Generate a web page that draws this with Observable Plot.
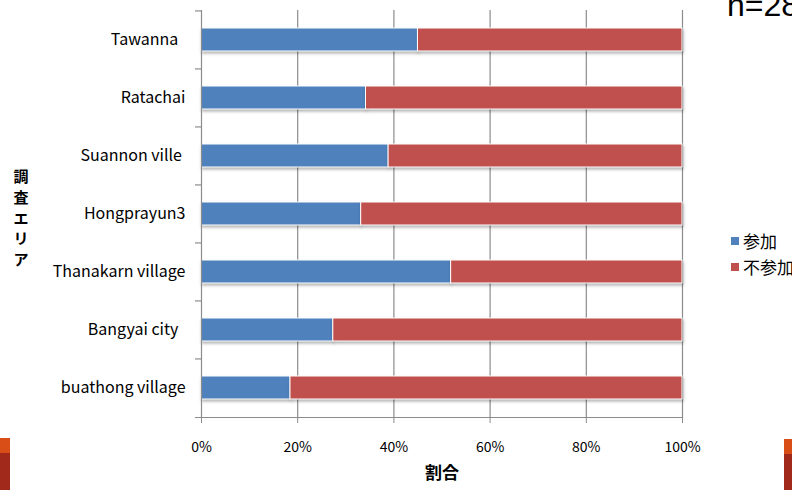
<!DOCTYPE html>
<html><head><meta charset="utf-8">
<script src="https://cdn.jsdelivr.net/npm/d3@7"></script>
<script src="https://cdn.jsdelivr.net/npm/@observablehq/plot@0.6"></script>
<style>
html,body{margin:0;padding:0;background:#fff;overflow:hidden;width:792px;height:490px;}
#wrap{position:relative;width:792px;height:490px;overflow:hidden;font-family:"Noto Sans CJK JP","Noto Sans",sans-serif;}
.deco{position:absolute;}
.leg{position:absolute;font-size:17px;color:#000;white-space:nowrap;line-height:1;}
.leg span.sw{display:inline-block;width:8px;height:8px;margin-right:4px;vertical-align:3px;}
#nlabel{position:absolute;left:727px;top:-13px;font-family:"Liberation Sans",Arial,sans-serif;font-size:32px;white-space:nowrap;}
svg text{white-space:pre;}
</style></head>
<body><div id="wrap"></div>
<script>
const areas = ["Tawanna  ","Ratachai","Suannon ville ","Hongprayun3","Thanakarn village","Bangyai city  ","buathong village"];
const joined = [0.450, 0.342, 0.389, 0.332, 0.519, 0.274, 0.185];
const seriesNames = ["参加","不参加"];
const seriesColors = ["#4F81BD","#C0504D"];
const xTicks = [0,0.2,0.4,0.6,0.8,1];
const yTitle = "調査エリア";
const xTitle = "割合";
const nLabel = "n=28";

const rows = [];
areas.forEach((a,i)=>{
  rows.push({area:a, series:seriesNames[0], value:joined[i]});
  rows.push({area:a, series:seriesNames[1], value:1-joined[i]});
});

const H = 490, mTop = 10, mBottom = 73;
const step = (H - mTop - mBottom) / areas.length;
const font = "'Noto Sans CJK JP','Noto Sans',sans-serif";
const pct = d => Math.round(d*100) + "%";

const chart = Plot.plot({
  width: 792, height: H,
  marginLeft: 201, marginRight: 110, marginTop: mTop, marginBottom: mBottom,
  style: {fontFamily: font, fontSize: "13px", color: "#000", background: "transparent"},
  x: {domain:[0,1], ticks: xTicks, tickFormat: pct},
  y: {domain: areas, paddingInner: 0.6, paddingOuter: 0.3},
  color: {domain: seriesNames, range: seriesColors},
  marks: [
    Plot.ruleX(xTicks.slice(1), {stroke:"#8c8c8c", strokeWidth:1.2}),
    Plot.barX(rows, Plot.stackX({x:"value", y:"area", fill:"series", order: seriesNames, stroke:"#ffffff", strokeWidth:1})),
    Plot.ruleX([0], {stroke:"#8c8c8c", strokeWidth:1.2}),
    Plot.frame({anchor:"bottom", stroke:"#8c8c8c", strokeWidth:1.2, insetLeft:-6}),
    Plot.ruleY(areas, {y: d=>d, x1:0, x2:0, insetLeft:-6, dy:-step/2, stroke:"#8c8c8c", strokeWidth:1.2}),
    Plot.axisX({ticks: xTicks, tickFormat: pct, tickSize:6, tickPadding:19, stroke:"#8c8c8c", fontSize:14, letterSpacing:"1.8px", label:null}),
    Plot.axisY({tickSize:0, tickPadding:16, fontSize:16, label:null, letterSpacing:"0.75px"}),
    Plot.text([xTitle], {frameAnchor:"bottom", dy:61, fontSize:17, fontWeight:"bold"}),
    Plot.text([yTitle.split("").join("\n")], {frameAnchor:"left", dx:-188, dy:3, fontSize:15, fontWeight:"bold", lineHeight:1.38})
  ]
});

d3.select(chart).selectAll("g[aria-label='bar'] rect").style("filter","drop-shadow(1px 2px 1.5px rgba(0,0,0,0.3))");

const wrap = document.getElementById("wrap");
wrap.appendChild(chart);

// legend
seriesNames.forEach((s,i)=>{
  const d = document.createElement("div");
  d.className = "leg";
  d.style.left = "731px";
  d.style.top = (232 + i*26) + "px";
  d.innerHTML = `<span class="sw" style="background:${seriesColors[i]}"></span>${s}`;
  wrap.appendChild(d);
});
const n = document.createElement("div");
n.id = "nlabel"; n.textContent = nLabel; wrap.appendChild(n);

// decorative slide blocks
[[0,438,10,15,"#D84E16"],[0,453,10,37,"#A0291C"],[784,439,8,15,"#D84E16"],[784,454,8,36,"#A0291C"]].forEach(b=>{
  const e = document.createElement("div");
  e.className = "deco";
  Object.assign(e.style,{left:b[0]+"px",top:b[1]+"px",width:b[2]+"px",height:b[3]+"px",background:b[4]});
  wrap.appendChild(e);
});
</script></body></html>
